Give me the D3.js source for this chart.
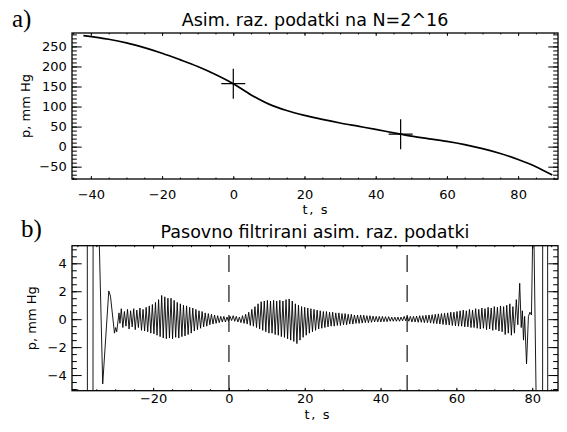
<!DOCTYPE html>
<html><head><meta charset="utf-8">
<script src="https://cdn.jsdelivr.net/npm/d3@7"></script>
<style>
body{margin:0;background:#fff}
svg text{font-family:"DejaVu Sans",sans-serif;fill:#000}
</style>
</head><body>
<svg id="c" width="567" height="432"></svg>
<script>
// ---------- data: panel a ----------
const curveT = [-42.1,-35,-30,-25,-20,-15,-10,-5,0,5,10,15,20,25,30,35,40,47,50,55,60,65,70,75,80,85,89.6];
const curveP = [277,268,259,247,233,217,200,180,157,129,106,90,78,68,59,51,43,31,26,19.5,13,5,-5,-17,-32,-50,-71];
const markT = [0,47];
const markP = [157,31];

// ---------- data: panel b ----------
const headT = [-37.45,-37.25,-35.95,-35.75,-34.3,-33.3,-31.7,-31.25,-30.2,-29.9,-29.6,-29.0,-28.75];
const headP = [40,-40,-40,40,6.5,-4.64,2.02,1.65,-1.0,-0.6,-0.9,0.45,-0.3];
const beatT = [-28.40,-27.58,-26.76,-25.94,-25.12,-24.30,-23.48,-22.66,-21.84,-21.02,-20.20,-19.38,-18.56,-17.74,-16.92,-16.10,-15.28,-14.46,-13.64,-12.82,-12.00,-11.18,-10.36,-9.54,-8.72,-7.90,-7.08,-6.26,-5.44,-4.62,-3.80,-2.98,-2.16,-1.34,-0.52,0.30,1.12,1.94,2.76,3.58,4.40,5.22,6.04,6.86,7.68,8.50,9.32,10.14,10.96,11.78,12.60,13.42,14.24,15.06,15.88,16.70,17.52,18.34,19.16,19.98,20.80,21.62,22.44,23.26,24.08,24.90,25.72,26.54,27.36,28.18,29.00,29.82,30.64,31.46,32.28,33.10,33.92,34.74,35.56,36.38,37.20,38.02,38.84,39.66,40.48,41.30,42.12,42.94,43.76,44.58,45.40,46.22,47.04,47.86,48.68,49.50,50.32,51.14,51.96,52.78,53.60,54.42,55.24,56.06,56.88,57.70,58.52,59.34,60.16,60.98,61.80,62.62,63.44,64.26,65.08,65.90,66.72,67.54,68.36,69.18,70.00,70.82,71.64,72.46,73.28];
const beatHi = [0.75,0.55,0.7,0.6,0.75,0.65,0.8,0.7,0.85,0.95,1.05,1.2,1.4,1.7,1.6,1.5,1.5,1.35,1.2,1.1,1.0,0.95,0.85,0.8,0.7,0.6,0.55,0.45,0.4,0.35,0.3,0.25,0.2,0.2,0.15,
0.2,0.25,0.2,0.15,0.25,0.35,0.5,0.7,0.9,1.1,1.25,1.3,1.35,1.3,1.35,1.3,1.35,1.3,1.4,1.45,1.3,1.1,1.0,0.9,0.85,0.8,0.75,0.7,0.65,0.6,0.55,0.55,0.5,0.5,0.45,0.45,0.4,0.4,0.35,0.35,0.3,0.3,0.3,0.28,0.25,0.25,0.22,0.2,0.2,0.2,0.18,0.18,0.15,0.15,0.15,0.15,0.2,0.2,0.2,0.2,0.22,0.25,0.25,0.28,0.3,0.32,0.35,0.38,0.4,0.42,0.45,0.5,0.5,0.55,0.6,0.65,0.6,0.7,0.65,0.75,0.7,0.8,0.75,0.85,0.8,0.9,0.85,0.95,0.9,1.0];
const beatLo = [-0.6,-0.5,-0.7,-0.55,-0.75,-0.6,-0.8,-0.85,-0.9,-1.0,-1.05,-1.15,-1.25,-1.35,-1.4,-1.35,-1.4,-1.3,-1.35,-1.25,-1.2,-1.1,-1.0,-0.85,-0.75,-0.65,-0.55,-0.5,-0.4,-0.35,-0.3,-0.25,-0.2,-0.2,-0.15,
-0.1,-0.15,-0.2,-0.25,-0.3,-0.35,-0.45,-0.5,-0.6,-0.7,-0.8,-0.9,-1.0,-1.0,-1.1,-1.15,-1.25,-1.3,-1.4,-1.5,-1.6,-1.75,-1.5,-1.3,-1.15,-1.0,-0.9,-0.8,-0.7,-0.65,-0.6,-0.55,-0.5,-0.5,-0.45,-0.45,-0.4,-0.4,-0.35,-0.35,-0.3,-0.3,-0.28,-0.25,-0.25,-0.22,-0.2,-0.2,-0.2,-0.18,-0.18,-0.15,-0.15,-0.15,-0.15,-0.12,-0.12,-0.15,-0.2,-0.2,-0.22,-0.22,-0.25,-0.25,-0.28,-0.3,-0.32,-0.35,-0.38,-0.4,-0.42,-0.45,-0.48,-0.5,-0.5,-0.55,-0.55,-0.6,-0.6,-0.65,-0.7,-0.65,-0.75,-0.7,-0.8,-0.75,-0.85,-0.9,-1.1,-1.0];
const troughLag = 0.41;
const tailT = [74.1,74.5,74.9,75.3,75.8,76.2,76.7,77.1,77.4,77.7,78.0,78.5,79.0,79.4,79.8,80.3,81.2,82.7,82.8,84.0,84.15];
const tailP = [1.1,-1.15,0.9,-1.0,1.4,-0.4,2.57,-0.6,0.6,-1.5,0.2,-3.2,0.2,0.5,0.3,9,-9,-40,40,40,-40];
const dashT = [0,47];

// ---------- ticks ----------
const topXTicks = [-40,-20,0,20,40,60,80];
const topYTicks = [-50,0,50,100,150,200,250];
const botXTicks = [-20,0,20,40,60,80];
const botYTicks = [-4,-2,0,2,4];

const titleA = "Asim. raz. podatki na N=2^16";
const titleB = "Pasovno filtrirani asim. raz. podatki";
const xTitle = "t, s";
const yTitle = "p, mm Hg";

// ---------- layout ----------
const svg = d3.select("#c");
const L = 72, R = 558;
const pA = {top:33, bottom:179};
const pB = {top:245.7, bottom:390.7};

const xA = d3.scaleLinear().domain([-45.3, 91.2]).range([L, R]);
const yA = d3.scaleLinear().domain([-80.75, 283.5]).range([pA.bottom, pA.top]);
const xB = d3.scaleLinear().domain([-41.4, 86.8]).range([L, R]);
const yB = d3.scaleLinear().domain([-5.12, 5.26]).range([pB.bottom, pB.top]);

const fmt = d3.format("d");

function axes(x, y, p, xMajor, xMinorStep, yMajor, yMinorStep, xPad, yTitleX){
  const g = svg.append("g");
  const xd = x.domain(), yd = y.domain();
  const xMinor = d3.range(Math.ceil(xd[0]/xMinorStep)*xMinorStep, xd[1], xMinorStep);
  const yMinor = d3.range(Math.ceil(yd[0]/yMinorStep)*yMinorStep, yd[1], yMinorStep);
  const xt = 2.9, yt = 9.7;
  g.append("g").attr("transform",`translate(0,${p.bottom})`)
    .call(d3.axisBottom(x).tickValues(xMajor).tickSize(-xt).tickSizeOuter(0).tickPadding(xPad).tickFormat(fmt));
  g.append("g").attr("transform",`translate(0,${p.bottom})`)
    .call(d3.axisBottom(x).tickValues(xMinor).tickSize(-xt/2).tickSizeOuter(0).tickFormat(""));
  g.append("g").attr("transform",`translate(0,${p.top})`)
    .call(d3.axisTop(x).tickValues(xMajor).tickSize(-xt).tickSizeOuter(0).tickFormat(""));
  g.append("g").attr("transform",`translate(0,${p.top})`)
    .call(d3.axisTop(x).tickValues(xMinor).tickSize(-xt/2).tickSizeOuter(0).tickFormat(""));
  g.append("g").attr("transform",`translate(${L},0)`)
    .call(d3.axisLeft(y).tickValues(yMajor).tickSize(-yt).tickSizeOuter(0).tickPadding(5.3).tickFormat(fmt));
  g.append("g").attr("transform",`translate(${L},0)`)
    .call(d3.axisLeft(y).tickValues(yMinor).tickSize(-yt/2).tickSizeOuter(0).tickFormat(""));
  g.append("g").attr("transform",`translate(${R},0)`)
    .call(d3.axisRight(y).tickValues(yMajor).tickSize(-yt).tickSizeOuter(0).tickFormat(""));
  g.append("g").attr("transform",`translate(${R},0)`)
    .call(d3.axisRight(y).tickValues(yMinor).tickSize(-yt/2).tickSizeOuter(0).tickFormat(""));
  g.selectAll(".domain").remove();
  g.selectAll(".tick line").attr("stroke","#000").attr("stroke-width",1);
  g.selectAll("g").attr("font-family",null).attr("font-size",null);
  g.selectAll(".tick text").style("font-size","13px").style("font-family","'DejaVu Sans',sans-serif");
  svg.append("rect").attr("x",L).attr("y",p.top).attr("width",R-L).attr("height",p.bottom-p.top)
    .attr("fill","none").attr("stroke","#000").attr("stroke-width",1.3);
  svg.append("text").attr("transform",`translate(${yTitleX},${(p.top+p.bottom)/2}) rotate(-90)`)
    .attr("text-anchor","middle").style("font-size","13px").text(yTitle);
}

const defs = svg.append("defs");
defs.append("clipPath").attr("id","clipA").append("rect").attr("x",L).attr("y",pA.top).attr("width",R-L).attr("height",pA.bottom-pA.top);
defs.append("clipPath").attr("id","clipB").append("rect").attr("x",L).attr("y",pB.top).attr("width",R-L).attr("height",pB.bottom-pB.top);

// ---------- panel a ----------
const curve = curveT.map((t,i)=>[t,curveP[i]]);
svg.append("path").attr("clip-path","url(#clipA)")
  .attr("d", d3.line().x(d=>xA(d[0])).y(d=>yA(d[1])).curve(d3.curveCatmullRom.alpha(0.5))(curve))
  .attr("fill","none").attr("stroke","#000").attr("stroke-width",1.7);
markT.forEach((t,i)=>{
  const cx = xA(t), cy = yA(markP[i]);
  svg.append("path").attr("d",`M${cx-12},${cy}H${cx+12}M${cx},${cy-15}V${cy+15}`)
    .attr("stroke","#000").attr("stroke-width",1.2).attr("fill","none");
});
axes(xA, yA, pA, topXTicks, 5, topYTicks, 10, 11, 30);

// ---------- panel b ----------
const sig = [];
headT.forEach((t,i)=>sig.push([t,headP[i]]));
beatT.forEach((t,i)=>{ sig.push([t,beatHi[i]]); sig.push([t+troughLag,beatLo[i]]); });
tailT.forEach((t,i)=>sig.push([t,tailP[i]]));
svg.append("path").attr("clip-path","url(#clipB)")
  .attr("d", d3.line().x(d=>xB(d[0])).y(d=>yB(d[1]))(sig))
  .attr("fill","none").attr("stroke","#000").attr("stroke-width",0.9).attr("stroke-linejoin","round");
dashT.forEach(t=>{
  svg.append("line").attr("x1",xB(t)).attr("x2",xB(t)).attr("y1",pB.top).attr("y2",pB.bottom)
    .attr("stroke","#000").attr("stroke-width",1.1)
    .attr("stroke-dasharray","17,13").attr("stroke-dashoffset",20.7);
});
axes(xB, yB, pB, botXTicks, 5, botYTicks, 0.5, 3.4, 36);

// ---------- titles ----------
svg.append("text").attr("x",(L+R)/2).attr("y",26).attr("text-anchor","middle").style("font-size","17.5px").text(titleA);
svg.append("text").attr("x",(L+R)/2).attr("y",238).attr("text-anchor","middle").style("font-size","17.5px").text(titleB);
svg.append("text").attr("x",(L+R)/2).attr("y",214).attr("text-anchor","middle").style("font-size","13px")
  .attr("textLength",25).attr("lengthAdjust","spacing").text(xTitle);
svg.append("text").attr("x",(L+R)/2+2).attr("y",419).attr("text-anchor","middle").style("font-size","13px")
  .attr("textLength",25).attr("lengthAdjust","spacing").text(xTitle);
svg.append("text").attr("x",12).attr("y",27).style("font-family","'Liberation Serif',serif").style("font-size","25px").text("a)");
svg.append("text").attr("x",21).attr("y",237).style("font-family","'Liberation Serif',serif").style("font-size","25px").text("b)");
</script>
</body></html>
